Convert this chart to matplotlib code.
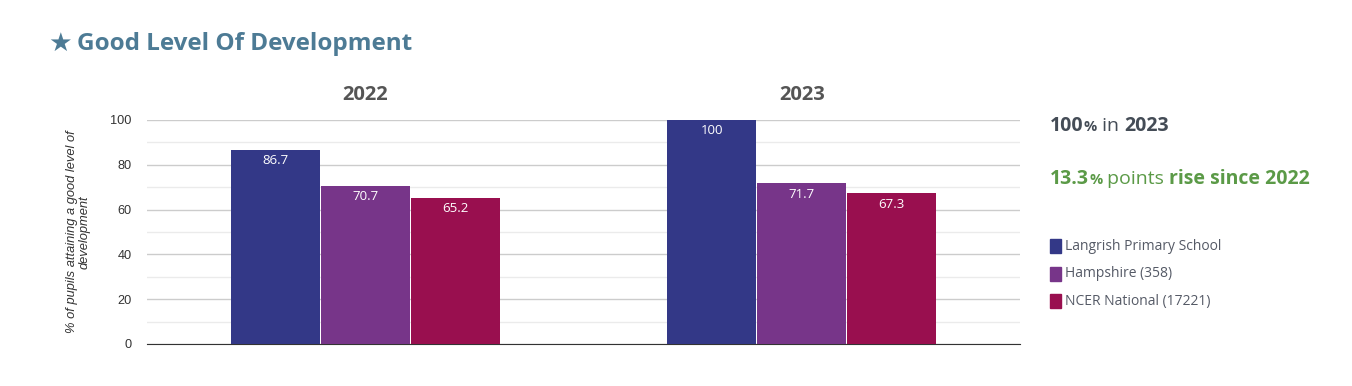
import numpy as np
import matplotlib.pyplot as plt

years = ["2022", "2023"]
series = ["Langrish Primary School", "Hampshire (358)", "NCER National (17221)"]
school = [86.7, 100]
hampshire = [70.7, 71.7]
national = [65.2, 67.3]
colors = ["#333887", "#773589", "#990f4f"]

# summary text pieces: (text, size, weight)
stat1 = [("100", 14, "bold"), ("%", 10.5, "bold"), (" in ", 14, "normal"),
         ("2023", 14, "bold")]
stat2 = [("13.3", 14, "bold"), ("%", 10.5, "bold"), (" points ", 14, "normal"),
         ("rise since 2022", 14, "bold")]

plt.rcParams['font.family'] = ['Open Sans', 'DejaVu Sans']
fig = plt.figure(figsize=(13.52, 3.86), dpi=100)
fig.patch.set_facecolor("white")

ax = fig.add_axes([147/1352, 1 - 344/386, 873/1352, 224/386])
x = np.arange(len(years))
w = 0.204
for i, vals in enumerate([school, hampshire, national]):
    pos = x + (i - 1) * (w + 0.002)
    ax.bar(pos, vals, width=w, color=colors[i], zorder=3)
    for p, v in zip(pos, vals):
        ax.text(p, v - 2.0, f"{v:g}", ha="center", va="top", color="white",
                fontsize=9.5, zorder=4)

ax.set_xlim(-0.5, 1.5)
ax.set_ylim(0, 100)
ax.set_yticks(range(0, 101, 20))
ax.set_yticks(range(10, 100, 20), minor=True)
ax.tick_params(axis="y", which="both", length=0, pad=11, labelsize=9.2,
               labelcolor="#333333")
for t in ax.get_yticklabels():
    t.set_family("Liberation Sans")
ax.set_xticks([])
ax.grid(axis="y", which="major", color="#cccccc", lw=1, zorder=0)
ax.grid(axis="y", which="minor", color="#ebebeb", lw=1, zorder=0)
for s in ["top", "right", "left"]:
    ax.spines[s].set_visible(False)
ax.spines["bottom"].set_color("#333333")
ax.set_ylabel("% of pupils attaining a good level of\ndevelopment", fontsize=9.3,
              style="italic", color="#333333", family="Liberation Sans",
              labelpad=14, linespacing=1.1)

for xi, yr in zip(x, years):
    ax.text(xi, 1.11, yr, transform=ax.get_xaxis_transform(), ha="center",
            va="center", fontsize=14.5, fontweight="bold", color="#555555")

fig.text(48/1352, 1 - 44/386, "★", fontsize=19, color="#4d7b95", va="center",
         family="DejaVu Sans")
fig.text(77/1352, 1 - 44/386, "Good Level Of Development", fontsize=17.5,
         fontweight="bold", color="#4d7b95", va="center")

# draw the summary lines piece by piece
fig.canvas.draw()
r = fig.canvas.get_renderer()
for parts, y0, color in [(stat1, 1 - 131/386, "#444c56"),
                         (stat2, 1 - 184/386, "#5b9a47")]:
    xe = 1050/1352
    for s, fs, fw in parts:
        t = fig.text(xe, y0, s, fontsize=fs, fontweight=fw, color=color,
                     va="baseline")
        xe = t.get_window_extent(r).x1 / fig.bbox.width

for i, name in enumerate(series):
    yy = 1 - (246 + i * 27.5) / 386
    fig.patches.append(plt.Rectangle((1050/1352, yy - 7/386), 11/1352,
                                     14/386, transform=fig.transFigure,
                                     color=colors[i], figure=fig))
    fig.text(1065/1352, yy, name, fontsize=10, color="#555a66", va="center")

fig.savefig("out.png", dpi=100, facecolor="white")
